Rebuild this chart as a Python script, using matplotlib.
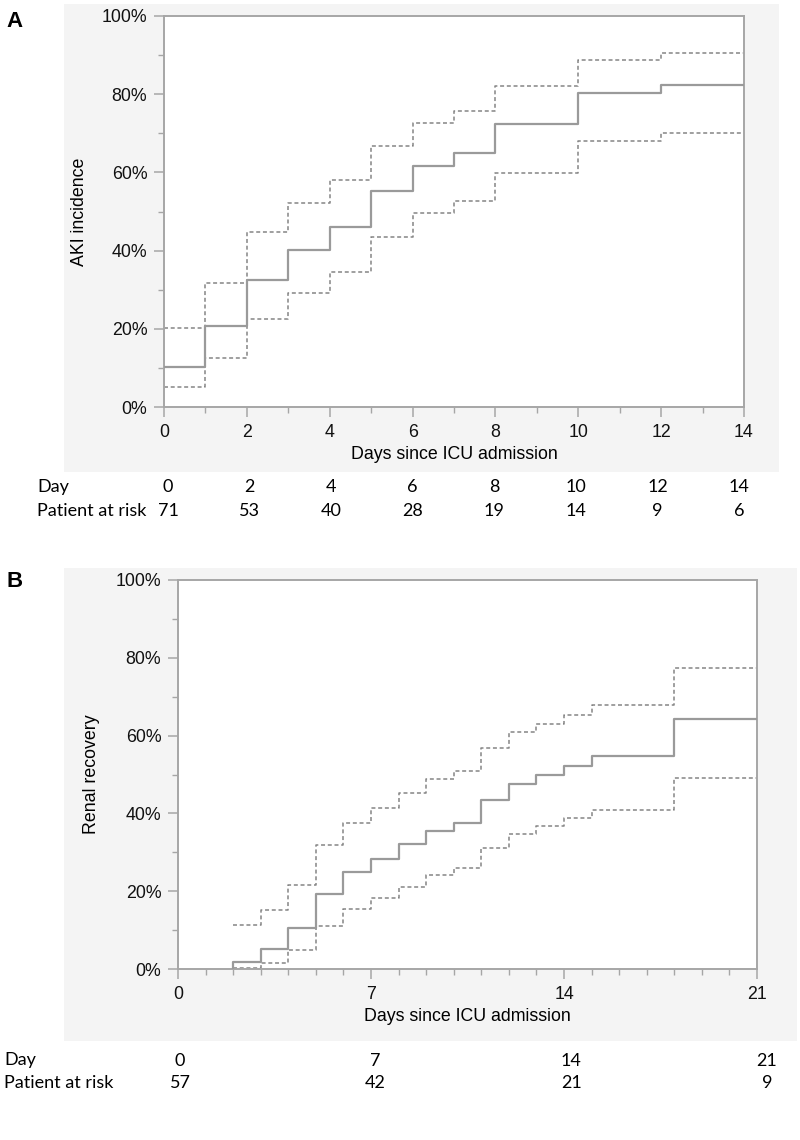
import numpy as np
import matplotlib
matplotlib.use("Agg")
import matplotlib.pyplot as plt
from matplotlib.patches import Rectangle
from matplotlib.ticker import MultipleLocator, PercentFormatter

# Panel A - AKI incidence (step values, last value repeated to end of follow-up)
days_a = [0, 1, 2, 3, 4, 5, 6, 7, 8, 10, 12, 14]
aki_est = [10.2, 20.6, 32.6, 40.1, 46.1, 55.3, 61.7, 65.0, 72.5, 80.2, 82.4, 82.4]
aki_upper = [20.1, 31.8, 44.7, 52.3, 58.0, 66.8, 72.6, 75.6, 82.1, 88.7, 90.5, 90.5]
aki_lower = [5.0, 12.6, 22.5, 29.1, 34.6, 43.4, 49.5, 52.7, 59.9, 68.0, 70.2, 70.2]
risk_days_a = [0, 2, 4, 6, 8, 10, 12, 14]
risk_n_a = [71, 53, 40, 28, 19, 14, 9, 6]

# Panel B - renal recovery
days_b = [2, 3, 4, 5, 6, 7, 8, 9, 10, 11, 12, 13, 14, 15, 18, 21]
rec_est = [1.7, 5.1, 10.6, 19.4, 24.9, 28.4, 32.1, 35.6, 37.6, 43.5, 47.6, 49.8, 52.2, 54.7, 64.3, 64.3]
rec_upper = [11.4, 15.1, 21.5, 31.8, 37.6, 41.5, 45.2, 48.8, 50.8, 56.9, 60.8, 62.9, 65.3, 67.8, 77.4, 77.4]
rec_lower = [0.2, 1.6, 4.8, 11.1, 15.3, 18.2, 21.2, 24.2, 25.9, 31.0, 34.8, 36.8, 38.7, 40.9, 49.0, 49.0]
risk_days_b = [0, 7, 14, 21]
risk_n_b = [57, 42, 21, 9]

W, H = 800, 1140
sans = ['Liberation Sans', 'DejaVu Sans']
table_font = ['Lato', 'DejaVu Sans']
spine_c = '#a6a6a6'
line_c = '#9a9a9a'
ci_c = '#858585'

fig = plt.figure(figsize=(W/100, H/100), dpi=100)

def px(x0, y0, x1, y1):
    # pixel box (top-left origin) -> figure fraction rect
    return [x0/W, 1 - y1/H, (x1 - x0)/W, (y1 - y0)/H]

# grey backgrounds behind each plot
for box in [(64, 4, 779, 472), (64, 568, 797, 1041)]:
    r = px(*box)
    fig.patches.append(Rectangle((r[0], r[1]), r[2], r[3], transform=fig.transFigure,
                                 facecolor='#f4f4f4', edgecolor='none', zorder=-5))

def style_axes(ax, xmax, major, ylabel, ylabpad, xlabpad):
    ax.set_facecolor('white')
    ax.set_zorder(2)
    ax.set_xlim(0, xmax)
    ax.set_ylim(0, 100)
    for s in ax.spines.values():
        s.set_color(spine_c)
        s.set_linewidth(1.4)
    ax.xaxis.set_major_locator(MultipleLocator(major))
    ax.xaxis.set_minor_locator(MultipleLocator(1))
    ax.yaxis.set_major_locator(MultipleLocator(20))
    ax.yaxis.set_minor_locator(MultipleLocator(10))
    ax.yaxis.set_major_formatter(PercentFormatter(decimals=0))
    ax.tick_params(which='major', length=7, width=1.1, color=spine_c, pad=5,
                   labelsize=12.8, labelcolor='#111111')
    ax.tick_params(which='minor', length=4, width=1.0, color=spine_c)
    for lab in ax.get_xticklabels() + ax.get_yticklabels():
        lab.set_family(sans)
    ax.set_xlabel('Days since ICU admission', fontsize=12.8, family=sans, labelpad=xlabpad)
    ax.set_ylabel(ylabel, fontsize=12.8, family=sans, labelpad=ylabpad)

def draw_curves(ax, x, est, upper, lower, start_zero=False):
    if start_zero:
        ax.step(np.r_[x[0], x], np.r_[0, est], where='post', color=line_c, lw=1.6, zorder=3)
    else:
        ax.step(x, est, where='post', color=line_c, lw=1.6, zorder=3)
    for ci in (upper, lower):
        ax.step(x, ci, where='post', color=ci_c, lw=1.1, dashes=(2.6, 1.8), zorder=2)

# ---- Panel A
axA = fig.add_axes(px(164, 16, 744, 407))
draw_curves(axA, days_a, aki_est, aki_upper, aki_lower)
style_axes(axA, 14, 2, 'AKI incidence', 10, 3.5)
fig.text(6/W, 1 - 27/H, 'A', fontsize=16, fontweight='bold', family=sans)

# ---- Panel B
axB = fig.add_axes(px(178, 580, 757, 969))
draw_curves(axB, days_b, rec_est, rec_upper, rec_lower, start_zero=True)
style_axes(axB, 21, 7, 'Renal recovery', 11, 4)
fig.text(6/W, 1 - 587/H, 'B', fontsize=16, fontweight='bold', family=sans)

# ---- number-at-risk tables
def risk_table(col0, col1, xmax, label_x, y_day, y_pat, days, n):
    tab = fig.add_axes(px(col0, y_day - 20, col1, y_pat + 6))
    tab.set_xlim(0, xmax)
    tab.set_ylim(0, 1)
    tab.axis('off')
    fs = 13
    fig.text(label_x/W, 1 - y_day/H, 'Day', fontsize=fs, family=table_font, va='baseline')
    fig.text(label_x/W, 1 - y_pat/H, 'Patient at risk', fontsize=fs, family=table_font, va='baseline')
    tr = matplotlib.transforms.blended_transform_factory(tab.transData, fig.transFigure)
    for d, k in zip(days, n):
        tab.text(d, 1 - y_day/H, str(d), transform=tr, ha='center', va='baseline',
                 fontsize=fs, family=table_font)
        tab.text(d, 1 - y_pat/H, str(k), transform=tr, ha='center', va='baseline',
                 fontsize=fs, family=table_font)

risk_table(168, 739, 14, 37, 492, 515.5, risk_days_a, risk_n_a)
risk_table(180, 767, 21, 4, 1065.5, 1088, risk_days_b, risk_n_b)

fig.savefig('out.png', dpi=100, facecolor='white')
